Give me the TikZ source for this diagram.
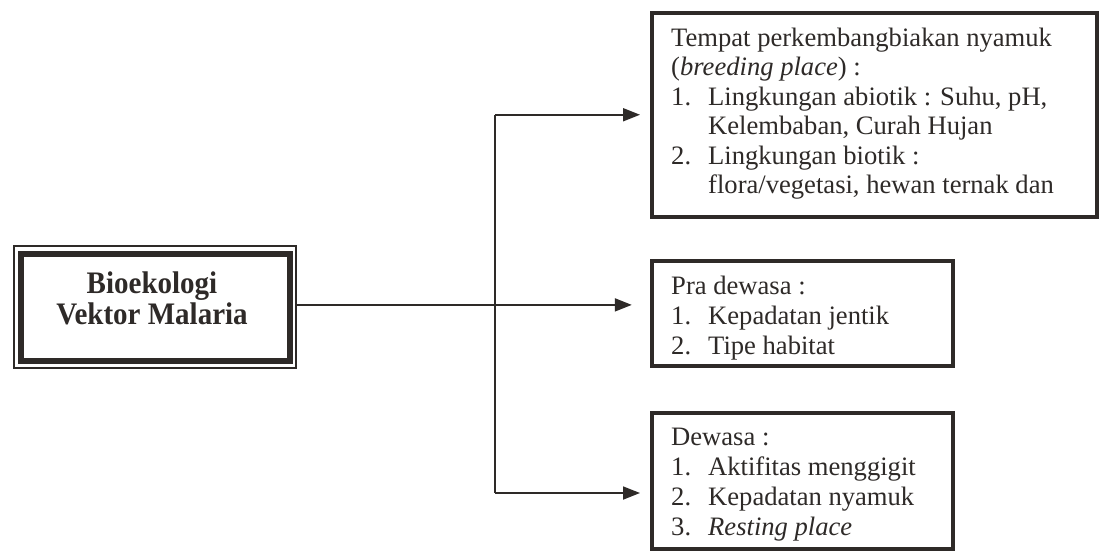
\documentclass[tikz,border=0pt]{standalone}
\usepackage{fontspec}
\setmainfont{Liberation Serif}
\usetikzlibrary{arrows.meta}
\definecolor{ink}{HTML}{2E2A28}
\newcommand\fsA{\fontsize{26.6}{29.5}\selectfont}
\newcommand\fsB{\fontsize{26.6}{30}\selectfont}
\begin{document}
\begin{tikzpicture}[x=1pt,y=-1pt,
  box/.style={draw=ink, line width=3.5pt, rectangle, inner sep=0pt, anchor=north west},
  txt/.style={anchor=base west, inner sep=0pt, text=ink},
  bold/.style={anchor=base, inner sep=0pt, text=ink, font=\fontsize{29}{32}\selectfont\bfseries},
  conn/.style={draw=ink, line width=1.8pt},
  arr/.style={conn, -{Triangle[length=17pt,width=13pt]}, shorten >=10pt}]
\useasboundingbox (0,0) rectangle (1099,550);
\fill[white] (0,0) rectangle (1099,550);

% left box
\node[draw=ink, line width=1.8pt, rectangle, inner sep=0pt, minimum width=282pt, minimum height=122pt,
      anchor=north west] (lb) at (13,245) {};
\draw[ink, line width=6.5pt] ([shift={(8,9)}]lb.north west) rectangle ([shift={(-7,-8)}]lb.south east);
\node[bold] (lbt1) at (152,293) {\scalebox{1}[1.08]{Bioekologi}};
\node[bold] (lbt2) at (152,324) {\scalebox{1}[1.08]{Vektor Malaria}};

% right boxes
\node[box, minimum width=445pt, minimum height=204pt] (b1) at (650,11) {};
\node[box, minimum width=301pt, minimum height=105pt] (b2) at (650,259) {};
\node[box, minimum width=301pt, minimum height=136pt] (b3) at (650,411) {};

\node[txt] (t1) at (671,46) {\fsA\begin{tabular}[t]{@{}p{37pt}@{}l@{}}
\multicolumn{2}{@{}l@{}}{Tempat perkembangbiakan nyamuk}\\
\multicolumn{2}{@{}l@{}}{(\textit{breeding place}) :}\\
1. & Lingkungan abiotik : Suhu, pH,\\
   & Kelembaban, Curah Hujan\\
2. & Lingkungan biotik :\\
   & flora/vegetasi, hewan ternak dan
\end{tabular}};

\node[txt] (t2) at (671,294) {\fsB\begin{tabular}[t]{@{}p{37pt}@{}l@{}}
\multicolumn{2}{@{}l@{}}{Pra dewasa :}\\
1. & Kepadatan jentik\\
2. & Tipe habitat
\end{tabular}};

\node[txt] (t3) at (671,445) {\fsB\begin{tabular}[t]{@{}p{37pt}@{}l@{}}
\multicolumn{2}{@{}l@{}}{Dewasa :}\\
1. & Aktifitas menggigit\\
2. & Kepadatan nyamuk\\
3. & \textit{Resting place}
\end{tabular}};

% connectors
\coordinate (jx) at (495,0);
\coordinate (b3in) at (650,493);
\draw[conn] (jx |- b1.west) -- (jx |- b3in);
\draw[arr] (jx |- b1.west) -- (b1.west);
\draw[arr] (lb.east) ++(0,-2) -- ++(345,0);
\draw[arr] (jx |- b3in) -- (b3in);
\end{tikzpicture}
\end{document}
